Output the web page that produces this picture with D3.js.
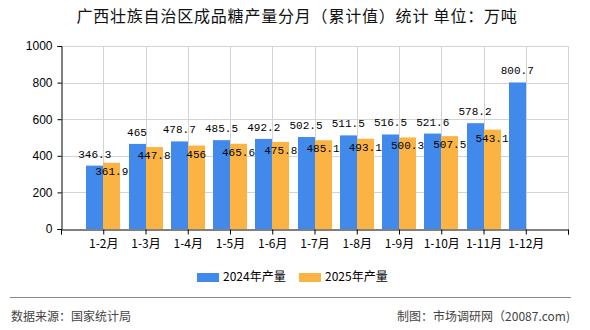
<!DOCTYPE html>
<html>
<head>
<meta charset="utf-8">
<script src="https://cdn.jsdelivr.net/npm/d3@7"></script>
<style>
  body { margin: 0; background: #fff; }
  text { font-family: "Noto Sans CJK SC", "Noto Sans", sans-serif; }
</style>
</head>
<body>
<svg id="chart" width="590" height="330"></svg>
<script>
var categories = ['1-2月', '1-3月', '1-4月', '1-5月', '1-6月', '1-7月', '1-8月', '1-9月', '1-10月', '1-11月', '1-12月'];
var prod2024 = [346.3, 465, 478.7, 485.5, 492.2, 502.5, 511.5, 516.5, 521.6, 578.2, 800.7];
var prod2025 = [361.9, 447.8, 456, 465.6, 475.8, 485.1, 493.1, 500.3, 507.5, 543.1, null];
var yTicks = [0, 200, 400, 600, 800, 1000];
var seriesNames = ['2024年产量', '2025年产量'];
var colors = ['#418aec', '#fbb443'];

(function () {
  var svg = d3.select('#chart'),
      left = 61, right = 568, top = 46, bottom = 229,
      barW = 17;

  // pad the domain with blank ends so the groups sit on the inner ticks
  var x = d3.scalePoint()
    .domain(['_a'].concat(categories, ['_b']))
    .range([left, right]);
  var y = d3.scaleLinear().domain([0, 1000]).range([bottom, top]);

  svg.append('text')
    .attr('x', 297).attr('y', 22)
    .attr('text-anchor', 'middle')
    .attr('font-size', 16)
    .attr('letter-spacing', 0.8)
    .attr('fill', '#111')
    .text('广西壮族自治区成品糖产量分月（累计值）统计  单位：万吨');

  // grid
  var grid = svg.append('g').attr('stroke', '#d3d3d3').attr('stroke-width', 1);
  grid.selectAll('line.h').data(yTicks.slice(1)).enter().append('line')
    .attr('x1', left).attr('x2', right)
    .attr('y1', function (d) { return Math.round(y(d)) + 0.5; })
    .attr('y2', function (d) { return Math.round(y(d)) + 0.5; });
  grid.selectAll('line.v').data(x.domain().slice(1)).enter().append('line')
    .attr('x1', function (d) { return Math.round(x(d)) + 0.5; })
    .attr('x2', function (d) { return Math.round(x(d)) + 0.5; })
    .attr('y1', top).attr('y2', bottom);

  // bars, one series at a time; 2024 left of the tick, 2025 right of it
  var bars = svg.append('g');
  [prod2024, prod2025].forEach(function (vals, s) {
    var rows = categories.map(function (c, i) { return {c: c, v: vals[i]}; })
      .filter(function (d) { return d.v !== null; });
    bars.selectAll('rect.s' + s).data(rows).enter().append('rect')
      .attr('class', 's' + s)
      .attr('x', function (d) { return Math.round(x(d.c)) + (s === 0 ? -barW : 0); })
      .attr('y', function (d) { return y(d.v); })
      .attr('width', barW)
      .attr('height', function (d) { return bottom - y(d.v); })
      .attr('fill', colors[s]);
  });

  // axes
  var yAxis = d3.axisLeft(y).tickValues(yTicks).tickFormat(d3.format('d'))
    .tickSize(4).tickPadding(5);
  svg.append('g')
    .attr('transform', 'translate(' + (left + 0.5) + ',0)')
    .call(yAxis)
    .call(function (g) {
      g.select('.domain').attr('stroke', '#000');
      g.selectAll('.tick line').attr('stroke', '#000');
      g.selectAll('text').attr('font-size', 12).attr('fill', '#000')
        .style('font-family', '"Liberation Sans", sans-serif');
    });

  var xAxis = d3.axisBottom(x).tickSize(5).tickPadding(5)
    .tickFormat(function (d) { return d.charAt(0) === '_' ? '' : d; });
  svg.append('g')
    .attr('transform', 'translate(0,' + (bottom + 0.5) + ')')
    .call(xAxis)
    .call(function (g) {
      g.select('.domain').attr('stroke', '#000');
      g.selectAll('.tick line').attr('stroke', '#000');
      g.selectAll('text').attr('font-size', 12).attr('fill', '#000');
    });

  // value labels: 2024 above its bar, 2025 tucked just under its top
  var labels = svg.append('g')
    .attr('font-size', 11)
    .attr('text-anchor', 'middle')
    .attr('fill', '#000');
  categories.forEach(function (c, i) {
    var cx = x(c);
    labels.append('text')
      .attr('x', cx - barW / 2).attr('y', y(prod2024[i]) - 8)
      .style('font-family', '"Liberation Mono", monospace')
      .text(prod2024[i]);
    if (prod2025[i] !== null) {
      labels.append('text')
        .attr('x', cx + barW / 2).attr('y', y(prod2025[i]) + 12)
        .style('font-family', '"Liberation Mono", monospace')
        .text(prod2025[i]);
    }
  });

  // legend
  var legend = svg.append('g');
  var legX = [197, 299];
  seriesNames.forEach(function (n, i) {
    legend.append('rect')
      .attr('x', legX[i]).attr('y', 273)
      .attr('width', 22).attr('height', 9)
      .attr('fill', colors[i]);
    legend.append('text')
      .attr('x', legX[i] + 26).attr('y', 281)
      .attr('font-size', 12).attr('fill', '#000')
      .text(n);
  });

  // footer
  svg.append('line')
    .attr('x1', 10).attr('x2', 571)
    .attr('y1', 297.5).attr('y2', 297.5)
    .attr('stroke', '#888');
  svg.append('text')
    .attr('x', 11).attr('y', 321)
    .attr('font-size', 12).attr('fill', '#444')
    .text('数据来源：国家统计局');
  svg.append('text')
    .attr('x', 570).attr('y', 321)
    .attr('text-anchor', 'end')
    .attr('font-size', 12).attr('fill', '#444')
    .text('制图：市场调研网（20087.com)');
})();
</script>
</body>
</html>
